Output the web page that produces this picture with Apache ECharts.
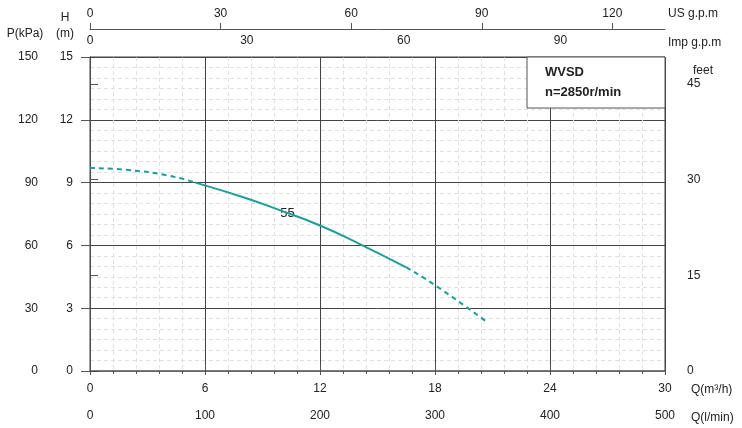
<!DOCTYPE html>
<html>
<head>
<meta charset="utf-8">
<script src="https://cdn.jsdelivr.net/npm/echarts@6/dist/echarts.min.js"></script>
<style>html,body{margin:0;padding:0;background:#fff}#c{width:742px;height:428px}</style>
</head>
<body>
<div id="c"></div>
<script>
// --- Data ---
const flowM3h = [0, 2, 4, 5.5, 8, 10, 12, 14, 16.5, 18, 20.7];
const headM = [9.7, 9.6, 9.35, 9.0, 8.3, 7.65, 6.95, 6.1, 4.95, 4.1, 2.35];
const solidFrom = 3, solidTo = 8; // indexes where curve is drawn solid
const curveLabel = '55';
const modelName = 'WVSD';
const speedText = 'n=2850r/min';

const chart = echarts.init(document.getElementById('c'));
const pts = flowM3h.map((q, i) => [q, headM[i]]);
const teal = '#1c9f98';
const font = 'Liberation Sans, Arial, sans-serif';
const lbl = { color: '#222', fontSize: 12, fontFamily: font };

function seg(data, type) {
    return {
        type: 'line', data, smooth: true, symbol: 'none', xAxisIndex: 0, yAxisIndex: 0,
        lineStyle: { color: teal, width: 2, type }, z: 5
    };
}
function txt(x, y, text, align) {
    return { type: 'text', x, y, style: { text, font: '12px ' + font, fill: '#222', align: align || 'left', verticalAlign: 'middle' }, z: 11 };
}

const solid = seg(pts.slice(solidFrom, solidTo + 1), 'solid');
solid.markPoint = {
    symbol: 'circle', symbolSize: 1, itemStyle: { color: 'transparent' },
    data: [{ coord: [10.3, 7.55] }],
    label: { show: true, formatter: curveLabel, position: 'inside', backgroundColor: '#fff', padding: [1, 3], fontSize: 13, color: '#222', fontFamily: font }
};

chart.setOption({
    animation: false,
    grid: { left: 90, right: 77, top: 57, bottom: 57, containLabel: false, outerBoundsMode: 'none' },
    xAxis: [
        { type: 'value', min: 0, max: 30, interval: 6, position: 'bottom',
          axisLine: { show: true, lineStyle: { color: '#555' } }, axisTick: { show: true, length: 4 },
          axisLabel: { ...lbl, margin: 12 },
          splitLine: { show: true, lineStyle: { color: '#444', width: 1 } },
          minorTick: { show: true, splitNumber: 5 }, minorSplitLine: { show: true, lineStyle: { color: '#e0e0e0', type: [4, 3] } } },
        { type: 'value', min: 0, max: 500, interval: 100, position: 'bottom', offset: 32,
          axisLine: { show: true, lineStyle: { color: '#999', width: 1.5 } }, axisTick: { show: true, inside: true, length: 7, lineStyle: { color: '#555' } },
          axisLabel: { ...lbl, margin: 7 }, splitLine: { show: false } },
        { type: 'value', min: 0, max: 110.0, interval: 30, position: 'top', offset: 0,
          axisLine: { show: false }, axisTick: { show: false },
          axisLabel: { ...lbl, margin: 10, showMaxLabel: false }, splitLine: { show: false } },
        { type: 'value', min: 0, max: 132.09, interval: 30, position: 'top', offset: 28,
          axisLine: { show: true, lineStyle: { color: '#555' } }, axisTick: { show: true, length: 6, lineStyle: { color: '#555' } },
          axisLabel: { ...lbl, margin: 9, showMaxLabel: false }, splitLine: { show: false } }
    ],
    yAxis: [
        { type: 'value', min: 0, max: 15, interval: 3, position: 'left',
          axisLine: { show: true, lineStyle: { color: '#555' } }, axisTick: { show: false },
          axisLabel: { ...lbl, margin: 17 },
          splitLine: { show: true, lineStyle: { color: '#444', width: 1 } },
          minorTick: { show: false, splitNumber: 6 }, minorSplitLine: { show: true, lineStyle: { color: '#e0e0e0', type: [4, 3] } } },
        { type: 'value', min: 0, max: 150, interval: 30, position: 'left', offset: 48,
          axisLine: { show: true, lineStyle: { color: '#555' } }, axisTick: { show: true, length: 9, lineStyle: { color: '#555' } },
          axisLabel: { ...lbl, margin: 4 }, splitLine: { show: false } },
        { type: 'value', min: 0, max: 49.21, interval: 15, position: 'right', offset: 18,
          axisLine: { show: true, lineStyle: { color: '#555' } }, axisTick: { show: true, length: 8, lineStyle: { color: '#555' } },
          axisLabel: { ...lbl, margin: 4, showMaxLabel: false }, splitLine: { show: false } }
    ],
    graphic: [
        { type: 'rect', shape: { x: 527, y: 57, width: 138, height: 51 }, style: { fill: '#fff', stroke: '#555', lineWidth: 1 }, z: 10 },
        { type: 'text', x: 545, y: 66, style: { text: modelName, font: 'bold 13px ' + font, fill: '#222' }, z: 11 },
        { type: 'text', x: 545, y: 86, style: { text: speedText, font: 'bold 13px ' + font, fill: '#222' }, z: 11 },
        { type: 'rect', shape: { x: 90, y: 57, width: 575, height: 314 }, style: { fill: 'none', stroke: '#444', lineWidth: 1 }, z: 1 },
        txt(25, 34, 'P(kPa)', 'center'),
        txt(65, 18, 'H', 'center'),
        txt(65, 34, '(m)', 'center'),
        txt(693, 71, 'feet'),
        txt(668, 14, 'US g.p.m'),
        txt(668, 43, 'Imp g.p.m'),
        txt(691, 390, 'Q(m³/h)'),
        txt(691, 418, 'Q(l/min)')
    ],
    series: [
        seg(pts.slice(0, solidFrom + 1), [5, 4]),
        solid,
        seg(pts.slice(solidTo), [5, 4])
    ]
});
</script>
</body>
</html>
